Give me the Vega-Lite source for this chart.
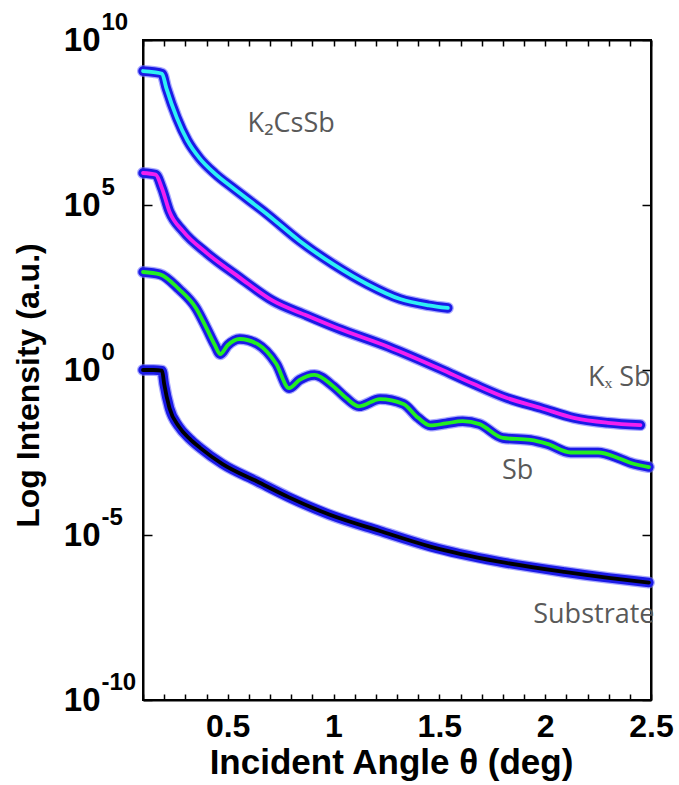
{
  "$schema": "https://vega.github.io/schema/vega-lite/v6.json",
  "width": 508,
  "height": 660,
  "autosize": "none",
  "padding": {"left": 143, "top": 40, "right": 28, "bottom": 85},
  "background": "white",
  "config": {"view": {"stroke": "black", "strokeWidth": 2}, "axis": {"grid": false}},
  "datasets": {
    "curves": [
      {"series": "Substrate", "t": 0.10, "logI": 0.00},
      {"series": "Substrate", "t": 0.15, "logI": 0.00},
      {"series": "Substrate", "t": 0.19, "logI": -0.02},
      {"series": "Substrate", "t": 0.20, "logI": -0.42},
      {"series": "Substrate", "t": 0.225, "logI": -1.15},
      {"series": "Substrate", "t": 0.27, "logI": -1.72},
      {"series": "Substrate", "t": 0.32, "logI": -2.08},
      {"series": "Substrate", "t": 0.37, "logI": -2.36},
      {"series": "Substrate", "t": 0.476, "logI": -2.85},
      {"series": "Substrate", "t": 0.64, "logI": -3.38},
      {"series": "Substrate", "t": 0.79, "logI": -3.86},
      {"series": "Substrate", "t": 0.98, "logI": -4.38},
      {"series": "Substrate", "t": 1.22, "logI": -4.88},
      {"series": "Substrate", "t": 1.457, "logI": -5.35},
      {"series": "Substrate", "t": 1.775, "logI": -5.8},
      {"series": "Substrate", "t": 2.09, "logI": -6.12},
      {"series": "Substrate", "t": 2.3, "logI": -6.3},
      {"series": "Substrate", "t": 2.49, "logI": -6.44},
      {"series": "Sb", "t": 0.10, "logI": 2.97},
      {"series": "Sb", "t": 0.18, "logI": 2.9},
      {"series": "Sb", "t": 0.27, "logI": 2.45},
      {"series": "Sb", "t": 0.35, "logI": 1.88},
      {"series": "Sb", "t": 0.40, "logI": 1.27},
      {"series": "Sb", "t": 0.44, "logI": 0.75},
      {"series": "Sb", "t": 0.465, "logI": 0.48},
      {"series": "Sb", "t": 0.50, "logI": 0.75},
      {"series": "Sb", "t": 0.557, "logI": 0.94},
      {"series": "Sb", "t": 0.64, "logI": 0.79},
      {"series": "Sb", "t": 0.73, "logI": 0.18},
      {"series": "Sb", "t": 0.79, "logI": -0.55},
      {"series": "Sb", "t": 0.84, "logI": -0.3},
      {"series": "Sb", "t": 0.91, "logI": -0.15},
      {"series": "Sb", "t": 1.00, "logI": -0.5},
      {"series": "Sb", "t": 1.06, "logI": -0.85},
      {"series": "Sb", "t": 1.12, "logI": -1.1},
      {"series": "Sb", "t": 1.22, "logI": -0.88},
      {"series": "Sb", "t": 1.33, "logI": -1.03},
      {"series": "Sb", "t": 1.40, "logI": -1.45},
      {"series": "Sb", "t": 1.457, "logI": -1.68},
      {"series": "Sb", "t": 1.53, "logI": -1.62},
      {"series": "Sb", "t": 1.61, "logI": -1.55},
      {"series": "Sb", "t": 1.69, "logI": -1.64},
      {"series": "Sb", "t": 1.80, "logI": -2.06},
      {"series": "Sb", "t": 1.93, "logI": -2.12},
      {"series": "Sb", "t": 2.01, "logI": -2.24},
      {"series": "Sb", "t": 2.12, "logI": -2.5},
      {"series": "Sb", "t": 2.25, "logI": -2.5},
      {"series": "Sb", "t": 2.35, "logI": -2.68},
      {"series": "Sb", "t": 2.405, "logI": -2.82},
      {"series": "Sb", "t": 2.49, "logI": -2.94},
      {"series": "KxSb", "t": 0.10, "logI": 5.97},
      {"series": "KxSb", "t": 0.16, "logI": 5.92},
      {"series": "KxSb", "t": 0.19, "logI": 5.5},
      {"series": "KxSb", "t": 0.225, "logI": 4.8},
      {"series": "KxSb", "t": 0.29, "logI": 4.2},
      {"series": "KxSb", "t": 0.40, "logI": 3.55},
      {"series": "KxSb", "t": 0.557, "logI": 2.8},
      {"series": "KxSb", "t": 0.713, "logI": 2.1},
      {"series": "KxSb", "t": 0.874, "logI": 1.65},
      {"series": "KxSb", "t": 1.017, "logI": 1.27},
      {"series": "KxSb", "t": 1.26, "logI": 0.7},
      {"series": "KxSb", "t": 1.505, "logI": 0.03},
      {"series": "KxSb", "t": 1.66, "logI": -0.42},
      {"series": "KxSb", "t": 1.82, "logI": -0.85},
      {"series": "KxSb", "t": 1.98, "logI": -1.15},
      {"series": "KxSb", "t": 2.135, "logI": -1.45},
      {"series": "KxSb", "t": 2.296, "logI": -1.6},
      {"series": "KxSb", "t": 2.45, "logI": -1.67},
      {"series": "K2CsSb", "t": 0.10, "logI": 9.06},
      {"series": "K2CsSb", "t": 0.15, "logI": 9.03},
      {"series": "K2CsSb", "t": 0.19, "logI": 8.98},
      {"series": "K2CsSb", "t": 0.21, "logI": 8.55},
      {"series": "K2CsSb", "t": 0.26, "logI": 7.64},
      {"series": "K2CsSb", "t": 0.31, "logI": 6.95},
      {"series": "K2CsSb", "t": 0.367, "logI": 6.42},
      {"series": "K2CsSb", "t": 0.44, "logI": 5.95},
      {"series": "K2CsSb", "t": 0.524, "logI": 5.52},
      {"series": "K2CsSb", "t": 0.685, "logI": 4.73},
      {"series": "K2CsSb", "t": 0.84, "logI": 3.91},
      {"series": "K2CsSb", "t": 1.0, "logI": 3.2},
      {"series": "K2CsSb", "t": 1.16, "logI": 2.6},
      {"series": "K2CsSb", "t": 1.315, "logI": 2.15},
      {"series": "K2CsSb", "t": 1.45, "logI": 1.96},
      {"series": "K2CsSb", "t": 1.54, "logI": 1.88}
    ],
    "labels": [
      {"label": "K₂CsSb", "t": 0.80, "logI": 7.45},
      {"label": "Kₓ Sb", "t": 2.35, "logI": -0.24},
      {"label": "Sb", "t": 1.87, "logI": -3.06},
      {"label": "Substrate", "t": 2.23, "logI": -7.42}
    ]
  },
  "layer": [
    {
      "data": {"name": "curves"},
      "mark": {"type": "line", "interpolate": "monotone", "color": "#6f6fff", "opacity": 0.6, "strokeWidth": 12, "strokeCap": "round", "strokeJoin": "round"},
      "encoding": {
        "x": {"field": "t", "type": "quantitative", "scale": {"domain": [0.1, 2.5], "nice": false, "zero": false},
          "axis": {"orient": "bottom", "values": [0.1,0.2,0.3,0.4,0.5,0.6,0.7,0.8,0.9,1.0,1.1,1.2,1.3,1.4,1.5,1.6,1.7,1.8,1.9,2.0,2.1,2.2,2.3,2.4,2.5],
            "labelExpr": "abs(datum.value*2 - round(datum.value*2)) < 0.001 ? format(datum.value, '~g') : ''",
            "labelOverlap": false, "labelFlush": false, "tickSize": -6, "labelPadding": 17, "labelBaseline": "top",
            "labelFont": "Liberation Sans", "labelFontWeight": "bold", "labelFontSize": 32, "labelColor": "black",
            "domainColor": "black", "domainWidth": 2, "tickColor": "black", "tickWidth": 1.5,
            "title": "Incident Angle θ (deg)", "titleFont": "Liberation Sans", "titleFontWeight": "bold", "titleFontSize": 35, "titleColor": "black",
            "titleX": 248, "titleY": 73, "titleAlign": "center", "titleBaseline": "alphabetic"}},
        "y": {"field": "logI", "type": "quantitative", "scale": {"domain": [-10, 10], "nice": false, "zero": false},
          "axis": {"orient": "left", "values": [-10, -5, 0, 5, 10],
            "labelExpr": "'10'",
            "labelOverlap": false, "labelFlush": false, "tickSize": -9, "labelPadding": 52,
            "labelFont": "Liberation Sans", "labelFontWeight": "bold", "labelFontSize": 33, "labelColor": "black",
            "domainColor": "black", "domainWidth": 2, "tickColor": "black", "tickWidth": 1.5,
            "title": "Log Intensity (a.u.)", "titleFont": "Liberation Sans", "titleFontWeight": "bold", "titleFontSize": 32, "titleColor": "black",
            "titleX": -115, "titleY": 345, "titleAngle": -90, "titleAlign": "center", "titleBaseline": "middle"}},
        "detail": {"field": "series"}
      }
    },
    {
      "data": {"name": "curves"},
      "mark": {"type": "line", "interpolate": "monotone", "color": "#1a1ae6", "strokeWidth": 9.5, "strokeCap": "round", "strokeJoin": "round"},
      "encoding": {
        "x": {"field": "t", "type": "quantitative", "axis": null},
        "y": {"field": "logI", "type": "quantitative",
          "axis": {"orient": "left", "values": [-10, -5, 0, 5, 10],
            "labelExpr": "datum.value < 0 ? '-' + abs(datum.value) : '' + datum.value",
            "labelOverlap": false, "labelFlush": false, "ticks": false, "tickSize": 0, "domain": false,
            "labelPadding": 42, "labelAlign": "left", "labelOffset": -18,
            "labelFont": "Liberation Sans", "labelFontWeight": "bold", "labelFontSize": 24, "labelColor": "black",
            "title": null}},
        "detail": {"field": "series"}
      }
    },
    {
      "data": {"name": "curves"},
      "mark": {"type": "line", "interpolate": "monotone", "strokeWidth": 3.8, "strokeCap": "round", "strokeJoin": "round"},
      "encoding": {
        "x": {"field": "t", "type": "quantitative", "axis": null},
        "y": {"field": "logI", "type": "quantitative", "axis": null},
        "color": {"field": "series", "type": "nominal", "legend": null,
          "scale": {"domain": ["K2CsSb", "KxSb", "Sb", "Substrate"], "range": ["#2ef0f4", "#f020f0", "#22ee22", "#000000"]}}
      }
    },
    {
      "data": {"name": "labels"},
      "mark": {"type": "text", "font": "Open Sans", "fontSize": 27, "color": "#595959", "align": "center", "baseline": "middle"},
      "encoding": {
        "x": {"field": "t", "type": "quantitative",
          "axis": {"orient": "top", "values": [0.1,0.2,0.3,0.4,0.5,0.6,0.7,0.8,0.9,1.0,1.1,1.2,1.3,1.4,1.5,1.6,1.7,1.8,1.9,2.0,2.1,2.2,2.3,2.4,2.5],
            "labels": false, "title": null, "tickSize": -6, "domainColor": "black", "domainWidth": 2, "tickColor": "black", "tickWidth": 1.5}},
        "y": {"field": "logI", "type": "quantitative",
          "axis": {"orient": "right", "values": [-10, -5, 0, 5, 10],
            "labels": false, "title": null, "tickSize": -9, "domainColor": "black", "domainWidth": 2, "tickColor": "black", "tickWidth": 1.5}},
        "text": {"field": "label"}
      }
    }
  ],
  "resolve": {"axis": {"x": "independent", "y": "independent"}}
}
